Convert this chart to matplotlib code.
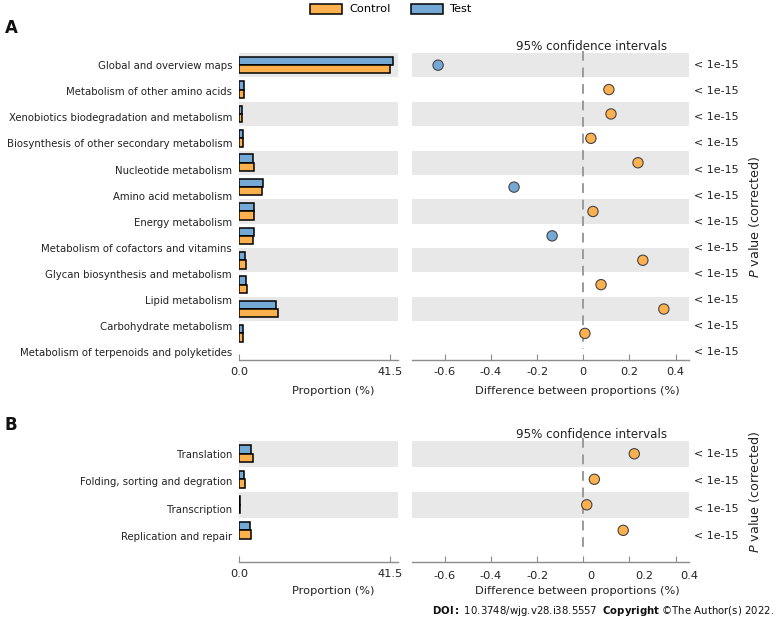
import matplotlib
matplotlib.use("Agg")
import matplotlib.pyplot as plt
from matplotlib.patches import Patch
from matplotlib.transforms import blended_transform_factory, ScaledTranslation

plt.rcParams['font.family'] = ['DejaVu Sans']

# ---------------- data ----------------
categories_A = ["Global and overview maps",
                "Metabolism of other amino acids",
                "Xenobiotics biodegradation and metabolism",
                "Biosynthesis of other secondary metabolism",
                "Nucleotide metabolism",
                "Amino acid metabolism",
                "Energy metabolism",
                "Metabolism of cofactors and vitamins",
                "Glycan biosynthesis and metabolism",
                "Lipid metabolism",
                "Carbohydrate metabolism",
                "Metabolism of terpenoids and polyketides"]
control_A = [41.6, 1.5, 0.9, 1.1, 4.1, 6.4, 4.0, 3.9, 1.8, 2.1, 10.6, 1.2]
test_A = [42.2, 1.4, 0.8, 1.1, 3.9, 6.7, 4.1, 4.0, 1.75, 2.0, 10.2, 1.2]
diff_A = [-0.629, 0.111, 0.120, 0.033, 0.237, -0.300, 0.042, -0.135, 0.258, 0.077, 0.349, 0.007]
pval_A = ["< 1e-15"] * 12

categories_B = ["Translation",
                "Folding, sorting and degration",
                "Transcription",
                "Replication and repair"]
control_B = [3.9, 1.6, 0.15, 3.4]
test_B = [3.4, 1.5, 0.15, 3.1]
diff_B = [0.221, 0.048, 0.015, 0.173]
pval_B = ["< 1e-15"] * 4

prop_ticks = [0.0, 41.5]
prop_ticklabels = ["0.0", "41.5"]
diff_ticks = [-0.6, -0.4, -0.2, 0, 0.2, 0.4]
diff_ticklabels = ["-0.6", "-0.4", "-0.2", "0", "0.2", "0.4"]

# ---------------- style ----------------
ORANGE = "#FDB04E"
BLUE = "#74A9D5"
BAND = "#E8E8E8"
AXCOL = "#8C8C8C"
TXT = "#222222"
FS_LAB = 7.3
FS_TICK = 8.2
FS_P = 8.0

W, H = 782, 625
fig = plt.figure(figsize=(W / 100, H / 100), dpi=100)


def add_ax(l, t, r, b):
    return fig.add_axes([l / W, 1 - b / H, (r - l) / W, (b - t) / H])


def style_axis(ax):
    for s in ["top", "right", "left"]:
        ax.spines[s].set_visible(False)
    ax.spines["bottom"].set_color(AXCOL)
    ax.spines["bottom"].set_linewidth(1.0)
    ax.tick_params(axis="x", direction="in", length=4, color=AXCOL,
                   labelsize=FS_TICK, labelcolor=TXT, pad=5)
    ax.tick_params(axis="y", length=0)


def panel(top, bottom, cats, ctrl, test, diff, pv, ylim_bottom, label_step,
          dash_end, shift_labels=None):
    n = len(cats)
    rows = list(range(n))
    label_pos = [i * label_step for i in rows]
    small = bottom - top < 200
    xl_y = -0.2 if small else -0.085

    axL = add_ax(239, top, 398, bottom)
    axR = add_ax(412, top, 689, bottom)
    for ax in (axL, axR):
        for i in rows:
            if i % 2 == 0:
                ax.axhspan(i - 0.5, i + 0.5, color=BAND, lw=0, zorder=0)
        ax.set_ylim(ylim_bottom, -0.5)
        style_axis(ax)

    h = 0.34
    axL.barh([r - h / 2 for r in rows], test, height=h, color=BLUE,
             edgecolor="black", linewidth=1.1, zorder=3)
    axL.barh([r + h / 2 for r in rows], ctrl, height=h, color=ORANGE,
             edgecolor="black", linewidth=1.1, zorder=3)
    axL.set_xlim(0, 43.7)
    axL.set_xticks(prop_ticks)
    axL.set_xticklabels(prop_ticklabels)
    axL.set_yticks(label_pos)
    axL.set_yticklabels(cats, fontsize=FS_LAB, color=TXT)
    axL.tick_params(axis="y", pad=5)
    axL.set_xlabel("Proportion (%)", fontsize=FS_TICK, color=TXT)
    axL.xaxis.set_label_coords(0.59, xl_y)

    colors = [ORANGE if d > 0 else BLUE for d in diff]
    axR.plot([0, 0], [-0.6, dash_end], color="#9A9A9A", lw=1.4,
             dashes=(5, 3.5), zorder=1, clip_on=False)
    axR.scatter(diff, rows, s=55, c=colors, edgecolors="#444444",
                linewidths=0.8, zorder=4, clip_on=False)
    axR.set_xlim(-0.742, 0.458)
    axR.set_xticks(diff_ticks)
    if shift_labels is None:
        axR.set_xticklabels(diff_ticklabels)
    else:
        axR.set_xticklabels([])
        tr = blended_transform_factory(axR.transData, axR.transAxes)
        for t, lab, dx in zip(diff_ticks, diff_ticklabels, shift_labels):
            axR.text(t, 0, lab,
                     transform=tr + ScaledTranslation(dx / 100, -9 / 100, fig.dpi_scale_trans),
                     ha="center", va="top", fontsize=FS_TICK, color=TXT)
    axR.set_yticks([])
    axR.set_xlabel("Difference between proportions (%)", fontsize=FS_TICK, color=TXT)
    axR.xaxis.set_label_coords(0.596, xl_y)

    trp = blended_transform_factory(axR.transAxes, axR.transData)
    for p, y in zip(pv, label_pos):
        axR.text(1.018, y, p, transform=trp, ha="left", va="center",
                 fontsize=FS_P, color=TXT)
    axR.text(0.65, 1.0, "95% confidence intervals", transform=axR.transAxes,
             ha="center", va="bottom", fontsize=8.6, color=TXT)
    return axL, axR


# Panel A
axLA, axRA = panel(53, 360, categories_A, control_A, test_A, diff_A, pval_A,
                   12.09, 1.07, 11.65)
# Panel B
axLB, axRB = panel(441, 562, categories_B, control_B, test_B, diff_B, pval_B,
                   4.24, 1.08, 3.88, shift_labels=[0, 0, 0, 8, 15, 14])

fig.text(755 / W, 1 - 217 / H, "$\\it{P}$ value (corrected)", rotation=90,
         ha="center", va="center", fontsize=9.2, color=TXT)
fig.text(755 / W, 1 - 492 / H, "$\\it{P}$ value (corrected)", rotation=90,
         ha="center", va="center", fontsize=9.2, color=TXT)

fig.text(5 / W, 1 - 28 / H, "A", fontsize=12, fontweight="bold",
         ha="left", va="center", color="#111111")
fig.text(5 / W, 1 - 425 / H, "B", fontsize=12, fontweight="bold",
         ha="left", va="center", color="#111111")

handles = [Patch(facecolor=ORANGE, edgecolor="black", linewidth=1.1, label="Control"),
           Patch(facecolor=BLUE, edgecolor="black", linewidth=1.1, label="Test")]
fig.legend(handles=handles, loc="center", bbox_to_anchor=(0.5, 1 - 9 / H),
           ncol=2, frameon=False, fontsize=FS_TICK, handlelength=2.8,
           handleheight=1.0, columnspacing=1.8, handletextpad=0.6)

fig.text(774 / W, 1 - 611 / H,
         "$\\bf{DOI:}$ 10.3748/wjg.v28.i38.5557  $\\bf{Copyright}$ \u00a9The Author(s) 2022.",
         ha="right", va="center", fontsize=7.3, color="#111111")

fig.savefig("out.png", dpi=100)
